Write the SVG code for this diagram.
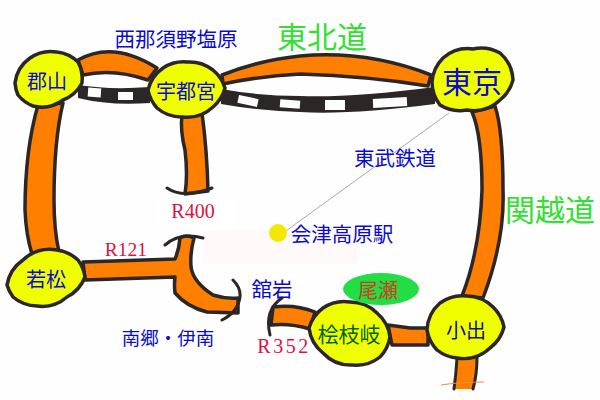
<svg xmlns="http://www.w3.org/2000/svg" width="600" height="400" viewBox="0 0 600 400">
<style>
.road{fill:#ff7f00;stroke:#2d2626;stroke-width:3.5;stroke-linejoin:round}
.edge{fill:none;stroke:#2d2626;stroke-width:3;stroke-linecap:round}
.rail{fill:#2d2626}
.win{fill:#fff}
.node{fill:#f0ff00;stroke:#2d2626;stroke-width:3.5;stroke-linejoin:round}
text{font-family:"Noto Sans CJK JP","Liberation Sans",sans-serif;text-anchor:middle;dominant-baseline:central}
.b{fill:#0a0ad0}
.r{fill:#e01040;font-family:"Liberation Serif",serif}
.g{fill:#33e033}
</style>
<rect width="600" height="400" fill="#fefefe"/>
<rect x="203" y="230" width="155" height="34" fill="#fff9f9"/>
<rect x="157" y="195" width="78" height="35" fill="#fff"/>
<g id="connectors">
<path class="road" d="M78 60Q113 40 157 68L148 80Q113 68 83 75Z"/>
<path class="road" d="M222 75Q260 60 300 56Q367 50 431 75L428 86Q367 76 300 74Q260 76 223 84Z"/>
<path class="rail" d="M78 85Q110 90 150 87V103Q110 106 78 98Z"/>
<rect class="win" x="88" y="88" width="13" height="9" transform="rotate(4 94 92)"/>
<rect class="win" x="118" y="92" width="15" height="8"/>
<path class="rail" d="M221 89Q260 96 300 96Q350 98 435 87V104Q350 115 300 112Q260 111 221 104Z"/>
<rect class="win" x="238" y="97" width="20" height="8" transform="rotate(12 248 101)"/>
<rect class="win" x="280" y="100" width="20" height="8" transform="rotate(4 290 104)"/>
<rect class="win" x="325" y="100" width="20" height="10"/>
<rect class="win" x="373" y="98" width="34" height="9" transform="rotate(-3 390 103)"/>
<path class="road" d="M38 105Q25 150 25 210Q26 235 32 254L59 252Q54 230 54 200Q54 140 63 103Z"/>
<path class="road" d="M182 115Q180 130 185 150Q188 175 185 194L208 191Q207 150 202 113Z"/>
<path class="edge" d="M167 188Q183 199 212 188"/>
<path class="road" d="M472 112Q482 135 482 190Q480 250 462 296L483 298Q505 240 503 190Q503 130 495 106Z"/>
<path d="M457 358Q456 375 454 389H473Q477 375 477 357Z" fill="#ff7f00"/>
<path class="edge" d="M457 358Q456 375 454 389M477 357Q477 375 473 389"/>
<path d="M441 385Q460 382 484 382" fill="none" stroke="#e89040" stroke-width="1"/>
<path class="road" d="M388 325L410 328H428V345L392 345Z"/>
<path class="road" d="M273 307Q295 304 315 312L310 329Q290 323 271 325Z"/>
<path class="edge" d="M282 298Q264 310 270 335"/>
<path class="road" d="M83 262L175 259Q179 250 180 238Q186 234 194 238Q190 252 191 267Q193 282 213 295Q225 299 238 298V313L207 312Q187 307 175 293Q174 285 175 277L85 280Z"/>
<path class="edge" d="M165 245Q180 232 203 238M233 280Q241 288 240 297Q238 312 222 320"/>
<line x1="449" y1="113" x2="283" y2="233" stroke="#aaa" stroke-width="1"/>
</g>
<g id="koriyama"><path class="node" d="M15 83A36 36 0 0 1 30 58A36 36 0 0 1 57 52A36 36 0 0 1 78 62A36 36 0 0 1 82 83A36 36 0 0 1 63 100A36 36 0 0 1 33 106A36 36 0 0 1 18 95A36 36 0 0 1 15 83Z"/><text class="b" x="47" y="80" font-size="20">郡山</text></g>
<g id="utsunomiya"><path class="node" d="M148 90A38 38 0 0 1 163 68A38 38 0 0 1 187 62A38 38 0 0 1 213 70A38 38 0 0 1 225 88A38 38 0 0 1 213 107A38 38 0 0 1 183 117A38 38 0 0 1 157 108A38 38 0 0 1 148 90Z"/><text class="b" x="186" y="90" font-size="20">宇都宮</text></g>
<g id="tokyo"><path class="node" d="M432 82A38 38 0 0 1 443 58A38 38 0 0 1 473 49A38 38 0 0 1 500 53A38 38 0 0 1 513 80A38 38 0 0 1 500 100A38 38 0 0 1 467 110A38 38 0 0 1 440 105A38 38 0 0 1 432 82Z"/><text class="b" x="472" y="80" font-size="30">東京</text></g>
<g id="wakamatsu"><path class="node" d="M7 285A38 38 0 0 1 23 260A38 38 0 0 1 57 250A38 38 0 0 1 78 260A38 38 0 0 1 85 277A38 38 0 0 1 67 297A38 38 0 0 1 37 306A38 38 0 0 1 13 297A38 38 0 0 1 7 285Z"/><text class="b" x="46" y="278" font-size="20">若松</text></g>
<g id="hinoemata"><path class="node" d="M309 328A38 38 0 0 1 323 308A38 38 0 0 1 350 302A38 38 0 0 1 377 313A38 38 0 0 1 390 337A38 38 0 0 1 380 357A38 38 0 0 1 353 365A38 38 0 0 1 323 353A38 38 0 0 1 309 328Z"/><text x="349" y="333" font-size="21" fill="#006000">桧枝岐</text></g>
<g id="oide"><path class="node" d="M427 330A38 38 0 0 1 440 303A38 38 0 0 1 467 296A38 38 0 0 1 493 307A38 38 0 0 1 504 327A38 38 0 0 1 490 348A38 38 0 0 1 457 358A38 38 0 0 1 437 350A38 38 0 0 1 427 330Z"/><text x="466" y="329" font-size="20" fill="#101080">小出</text></g>
<g id="oze"><ellipse cx="381" cy="289" rx="38" ry="16" fill="#22dd44"/><text x="378" y="289" font-size="20" fill="#c84020">尾瀬</text></g>
<g id="aizu"><circle cx="278" cy="233" r="9" fill="#f5e800"/><text class="b" x="342" y="233" font-size="20.5">会津高原駅</text></g>
<g id="labels">
<text class="b" x="176" y="38" font-size="20.5">西那須野塩原</text>
<text class="g" x="322" y="35" font-size="30">東北道</text>
<text class="b" x="395" y="157" font-size="20.5">東武鉄道</text>
<text class="g" x="550" y="208" font-size="30">関越道</text>
<text class="r" x="193" y="211" font-size="20">R400</text>
<text class="r" x="126" y="249" font-size="19.5">R121</text>
<text class="b" x="168" y="337" font-size="18.5">南郷・伊南</text>
<text class="b" x="272" y="288" font-size="20.5">舘岩</text>
<text class="r" x="284" y="346" font-size="20" letter-spacing="2.5">R352</text>
</g>
</svg>
